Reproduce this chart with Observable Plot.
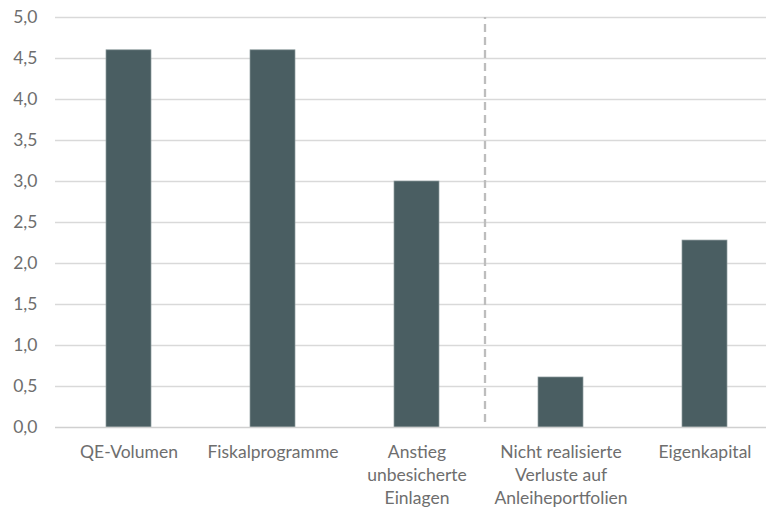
<!DOCTYPE html>
<html>
<head>
<meta charset="utf-8">
<script src="https://cdn.jsdelivr.net/npm/d3@7"></script>
<script src="https://cdn.jsdelivr.net/npm/@observablehq/plot@0.6"></script>
<style>
  html, body { margin: 0; padding: 0; background: #fff; overflow: hidden; }
  #chart { width: 766px; height: 508px; }
</style>
</head>
<body>
<div id="chart"></div>
<script>
const categories = [
  "QE-Volumen",
  "Fiskalprogramme",
  "Anstieg unbesicherte Einlagen",
  "Nicht realisierte Verluste auf Anleiheportfolien",
  "Eigenkapital"
];
const tickLabels = [
  "QE-Volumen",
  "Fiskalprogramme",
  "Anstieg\nunbesicherte\nEinlagen",
  "Nicht realisierte\nVerluste auf\nAnleiheportfolien",
  "Eigenkapital"
];
const values = [4.6, 4.6, 3.0, 0.61, 2.28];
const yTicks = [0, 0.5, 1, 1.5, 2, 2.5, 3, 3.5, 4, 4.5, 5];
const separatorBefore = ["Nicht realisierte Verluste auf Anleiheportfolien"];

const data = categories.map((c, i) => ({cat: c, value: values[i]}));
const labelOf = new Map(categories.map((c, i) => [c, tickLabels[i]]));

const chart = Plot.plot({
  width: 766,
  height: 508,
  marginTop: 17,
  marginBottom: 81,
  marginLeft: 55,
  marginRight: 0,
  style: {fontFamily: "Lato, sans-serif", fontSize: "17.5px", color: "#6e6e6e", background: "#fff"},
  x: {domain: categories, range: [55, 777.5], paddingInner: 0.69, paddingOuter: 0.345, label: null},
  y: {domain: [0, 5], label: null},
  marks: [
    Plot.ruleY(yTicks.filter(d => d > 0), {stroke: "#d9d9d9", strokeWidth: 1.6}),
    Plot.ruleX(separatorBefore, {x: d => d, dx: -76, y1: 0, y2: 5, insetTop: -5,
      stroke: "#bdbdbd", strokeWidth: 2.3, strokeDasharray: "8,5"}),
    Plot.barY(data, {x: "cat", y: "value", fill: "#4a5e62", stroke: "#8e9c9e", strokeWidth: 0.7}),
    Plot.ruleY([0], {stroke: "#d0d0d0", strokeWidth: 1.6}),
    Plot.axisY({ticks: yTicks, tickSize: 0, tickPadding: 18,
      tickFormat: d => d.toFixed(1).replace(".", ","), fill: "#6e6e6e"}),
    Plot.axisX({tickSize: 0, tickPadding: 14, lineHeight: 1.32,
      tickFormat: d => labelOf.get(d), fill: "#6e6e6e"})
  ]
});
document.getElementById("chart").append(chart);
</script>
</body>
</html>
